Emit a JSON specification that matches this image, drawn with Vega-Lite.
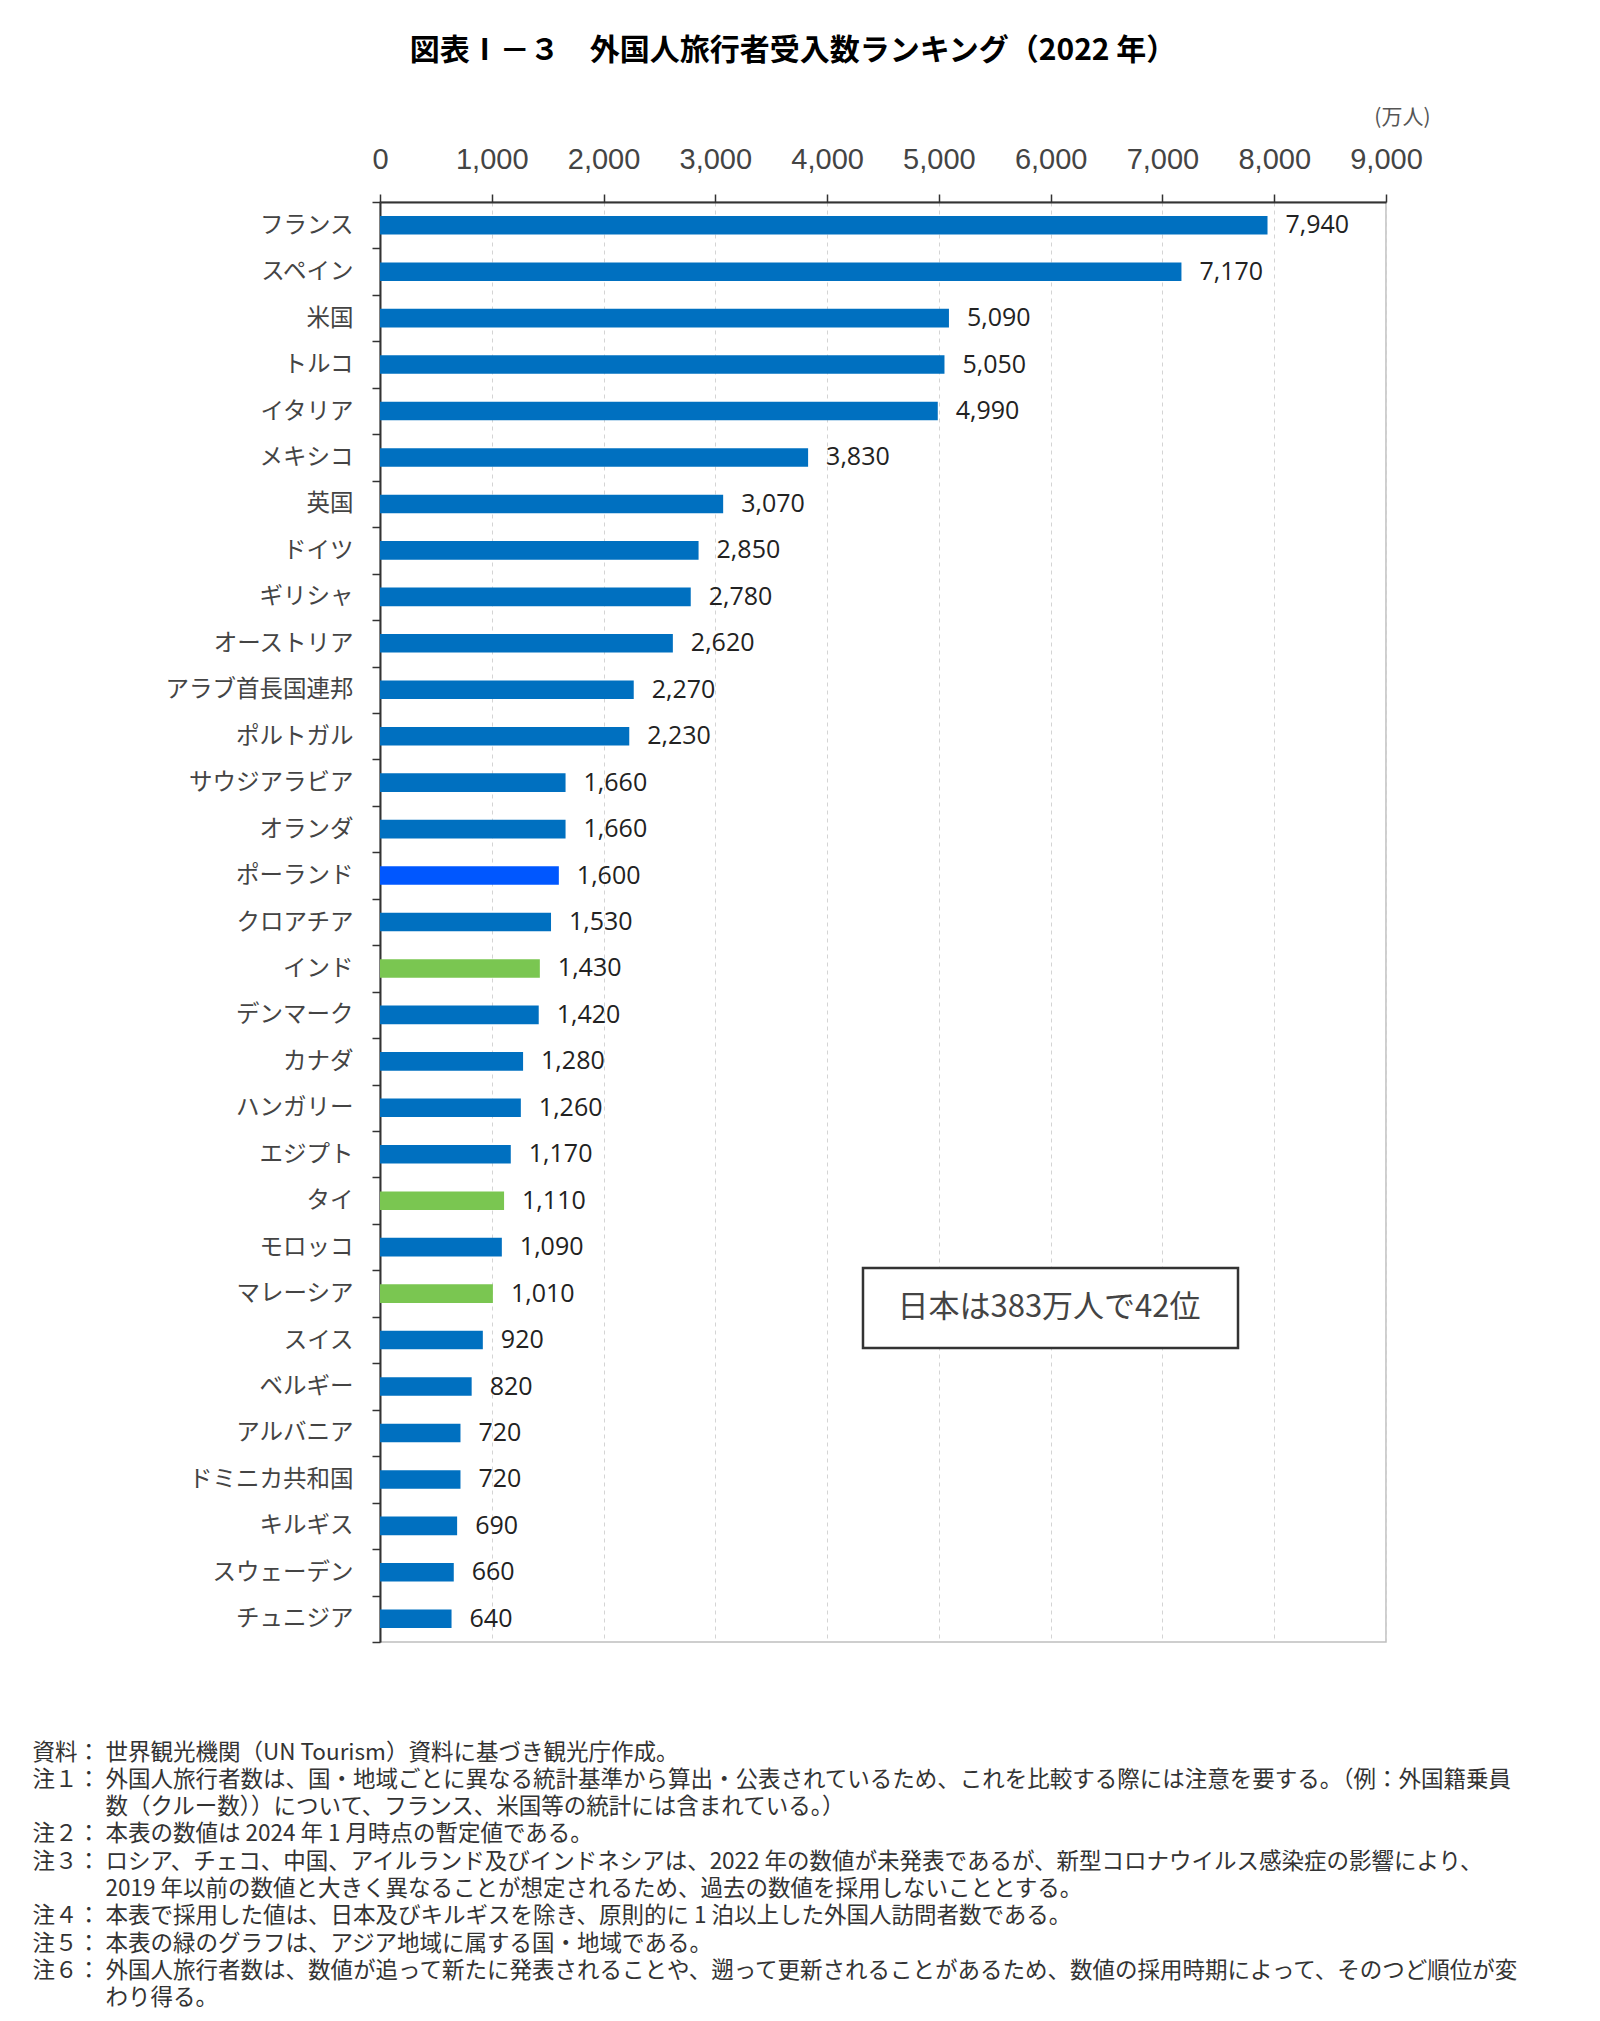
{
  "$schema": "https://vega.github.io/schema/vega-lite/v6.json",
  "width": 1006,
  "height": 1440,
  "autosize": {"type": "none"},
  "padding": {"left": 380, "top": 202, "right": 214, "bottom": 379},
  "background": "white",
  "title": {
    "text": "図表Ⅰ－３　外国人旅行者受入数ランキング（2022 年）",
    "font": "Noto Sans CJK JP",
    "fontSize": 30,
    "fontWeight": "bold",
    "color": "#000000",
    "anchor": "middle",
    "frame": "group",
    "dx": -90,
    "offset": 40
  },
  "config": {
    "view": {"stroke": "#bfbfbf", "strokeWidth": 1.5}
  },
  "datasets": {
    "countries": [
      {"country": "フランス", "value": 7940, "group": "other"},
      {"country": "スペイン", "value": 7170, "group": "other"},
      {"country": "米国", "value": 5090, "group": "other"},
      {"country": "トルコ", "value": 5050, "group": "other"},
      {"country": "イタリア", "value": 4990, "group": "other"},
      {"country": "メキシコ", "value": 3830, "group": "other"},
      {"country": "英国", "value": 3070, "group": "other"},
      {"country": "ドイツ", "value": 2850, "group": "other"},
      {"country": "ギリシャ", "value": 2780, "group": "other"},
      {"country": "オーストリア", "value": 2620, "group": "other"},
      {"country": "アラブ首長国連邦", "value": 2270, "group": "other"},
      {"country": "ポルトガル", "value": 2230, "group": "other"},
      {"country": "サウジアラビア", "value": 1660, "group": "other"},
      {"country": "オランダ", "value": 1660, "group": "other"},
      {"country": "ポーランド", "value": 1600, "group": "poland"},
      {"country": "クロアチア", "value": 1530, "group": "other"},
      {"country": "インド", "value": 1430, "group": "asia"},
      {"country": "デンマーク", "value": 1420, "group": "other"},
      {"country": "カナダ", "value": 1280, "group": "other"},
      {"country": "ハンガリー", "value": 1260, "group": "other"},
      {"country": "エジプト", "value": 1170, "group": "other"},
      {"country": "タイ", "value": 1110, "group": "asia"},
      {"country": "モロッコ", "value": 1090, "group": "other"},
      {"country": "マレーシア", "value": 1010, "group": "asia"},
      {"country": "スイス", "value": 920, "group": "other"},
      {"country": "ベルギー", "value": 820, "group": "other"},
      {"country": "アルバニア", "value": 720, "group": "other"},
      {"country": "ドミニカ共和国", "value": 720, "group": "other"},
      {"country": "キルギス", "value": 690, "group": "other"},
      {"country": "スウェーデン", "value": 660, "group": "other"},
      {"country": "チュニジア", "value": 640, "group": "other"}
    ],
    "note": [
      {"label": "日本は383万人で42位"}
    ]
  },
  "layer": [
    {
      "data": {"name": "countries"},
      "encoding": {
        "y": {
          "field": "country",
          "type": "nominal",
          "sort": null,
          "scale": {"paddingInner": 0, "paddingOuter": 0},
          "axis": {
            "title": null,
            "orient": "left",
            "tickBand": "extent",
            "labelFont": "Noto Sans CJK JP",
            "labelFontSize": 23.5,
            "labelColor": "#444444",
            "labelPadding": 19,
            "labelLimit": 400,
            "domainColor": "#333333",
            "domainWidth": 2,
            "tickColor": "#333333",
            "tickWidth": 1.5,
            "tickSize": 8,
            "grid": false
          }
        }
      },
      "layer": [
        {
          "mark": {"type": "bar", "height": {"band": 0.4}},
          "encoding": {
            "x": {
              "field": "value",
              "type": "quantitative",
              "scale": {"domain": [0, 9000], "nice": false},
              "axis": {
                "orient": "top",
                "values": [0, 1000, 2000, 3000, 4000, 5000, 6000, 7000, 8000, 9000],
                "labelExpr": "format(datum.value, ',')",
                "labelFont": "Liberation Sans",
                "labelFontSize": 29,
                "labelColor": "#444444",
                "labelPadding": 20,
                "labelFlush": false,
                "labelOverlap": false,
                "domainColor": "#333333",
                "domainWidth": 2,
                "tickColor": "#333333",
                "tickWidth": 1.5,
                "tickSize": 8,
                "grid": true,
                "gridColor": "#d4d4d4",
                "gridDash": [4, 4],
                "gridWidth": 1,
                "title": "(万人)",
                "titleFont": "Noto Sans CJK JP",
                "titleFontSize": 21,
                "titleFontWeight": "normal",
                "titleColor": "#555555",
                "titleAlign": "right",
                "titleBaseline": "middle",
                "titleX": 1050,
                "titleY": -85
              }
            },
            "color": {
              "field": "group",
              "type": "nominal",
              "scale": {"domain": ["other", "poland", "asia"], "range": ["#0070C0", "#0057FF", "#7AC651"]},
              "legend": null
            }
          }
        },
        {
          "mark": {"type": "text", "align": "left", "baseline": "middle", "dx": 18, "font": "Open Sans", "fontSize": 25, "color": "#222222"},
          "encoding": {
            "x": {"field": "value", "type": "quantitative"},
            "text": {"field": "value", "type": "quantitative", "format": ","}
          }
        }
      ]
    },
    {
      "data": {"name": "note"},
      "layer": [
        {
          "mark": {"type": "rect", "fill": "white", "stroke": "#333333", "strokeWidth": 2.5},
          "encoding": {
            "x": {
              "datum": 4321,
              "type": "quantitative",
              "axis": {
                "orient": "bottom",
                "labels": false,
                "ticks": false,
                "domain": false,
                "grid": false,
                "title": ["資料：", "注１：", "\u200b", "注２：", "注３：", "\u200b", "注４：", "注５：", "注６：", "\u200b"],
                "titleFont": "Noto Sans CJK JP",
                "titleFontSize": 22.5,
                "titleFontWeight": "normal",
                "titleColor": "#333333",
                "titleAlign": "left",
                "titleAnchor": "start",
                "titleBaseline": "top",
                "titleLineHeight": 27.3,
                "titleX": -348,
                "titleY": 99
              }
            },
            "x2": {"datum": 7676},
            "y": {
              "datum": 22.95,
              "type": "quantitative",
              "scale": {"domain": [0, 31], "reverse": true, "nice": false, "zero": false},
              "axis": {
                "orient": "left",
                "labels": false,
                "ticks": false,
                "domain": false,
                "grid": false,
                "title": [
                  "世界観光機関（UN Tourism）資料に基づき観光庁作成。",
                  "外国人旅行者数は、国・地域ごとに異なる統計基準から算出・公表されているため、これを比較する際には注意を要する。（例：外国籍乗員",
                  "数（クルー数））について、フランス、米国等の統計には含まれている。）",
                  "本表の数値は 2024 年 1 月時点の暫定値である。",
                  "ロシア、チェコ、中国、アイルランド及びインドネシアは、2022 年の数値が未発表であるが、新型コロナウイルス感染症の影響により、",
                  "2019 年以前の数値と大きく異なることが想定されるため、過去の数値を採用しないこととする。",
                  "本表で採用した値は、日本及びキルギスを除き、原則的に 1 泊以上した外国人訪問者数である。",
                  "本表の緑のグラフは、アジア地域に属する国・地域である。",
                  "外国人旅行者数は、数値が追って新たに発表されることや、遡って更新されることがあるため、数値の採用時期によって、そのつど順位が変",
                  "わり得る。"
                ],
                "titleFont": "Noto Sans CJK JP",
                "titleFontSize": 22.5,
                "titleFontWeight": "normal",
                "titleColor": "#333333",
                "titleAngle": 0,
                "titleAlign": "left",
                "titleAnchor": "start",
                "titleBaseline": "top",
                "titleLineHeight": 27.3,
                "titleX": -275,
                "titleY": 1539
              }
            },
            "y2": {"datum": 24.67}
          }
        },
        {
          "mark": {"type": "text", "align": "center", "baseline": "middle", "font": "Noto Sans CJK JP", "fontSize": 31, "color": "#444444"},
          "encoding": {
            "x": {"datum": 5985, "type": "quantitative"},
            "y": {"datum": 23.8, "type": "quantitative"},
            "text": {"field": "label", "type": "nominal"}
          }
        }
      ]
    }
  ],
  "resolve": {"scale": {"y": "independent"}}
}
